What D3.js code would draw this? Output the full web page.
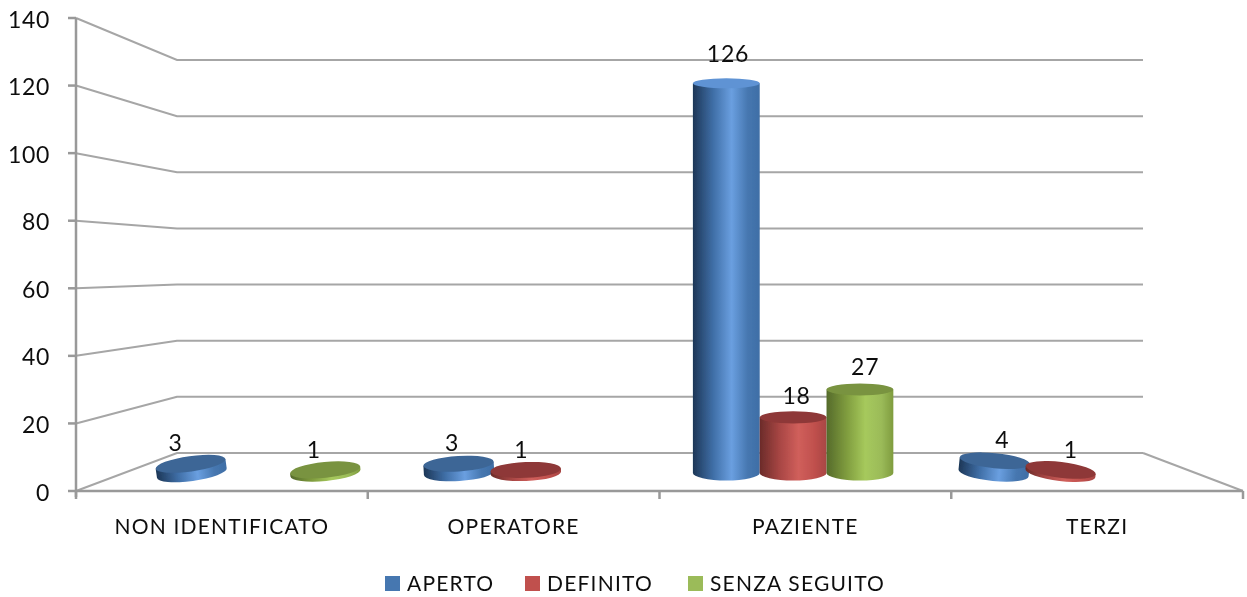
<!DOCTYPE html>
<html><head><meta charset="utf-8">
<script src="https://cdnjs.cloudflare.com/ajax/libs/d3/7.8.5/d3.min.js"></script>
<style>html,body{margin:0;padding:0;background:#fff}svg{display:block}text{font-family:Lato,"Open Sans",sans-serif;fill:#111}</style>
</head><body><div id="c"></div>
<script>
const categories = ["NON IDENTIFICATO","OPERATORE","PAZIENTE","TERZI"];
const seriesNames = ["APERTO","DEFINITO","SENZA SEGUITO"];
const aperto = [3,3,126,4];
const definito = [null,1,18,1];
const senzaSeguito = [1,null,27,null];
const seriesValues = [aperto,definito,senzaSeguito];
const yTicks = [0,20,40,60,80,100,120,140];
const seriesColors = [
  {dark:"#1d3757",mid:"#3f6ea6",light:"#6a9fe0",base:"#4677b0",top:"#3d6696",topTall:"#5f93d4"},
  {dark:"#6b2b29",mid:"#a84644",light:"#d05f5b",base:"#c0504d",top:"#8e3937",topTall:"#8e3937"},
  {dark:"#556a2b",mid:"#7f9c3e",light:"#a6c95c",base:"#9bbb59",top:"#79933f",topTall:"#72893b"}
];

const W=1247,H=597;
const svg=d3.select("#c").append("svg").attr("width",W).attr("height",H);
const defs=svg.append("defs");
defs.append("filter").attr("id","soft").attr("filterUnits","userSpaceOnUse").attr("x",0).attr("y",0).attr("width",W).attr("height",H)
  .append("feGaussianBlur").attr("stdDeviation",0.6);
defs.append("filter").attr("id","softLine").attr("filterUnits","userSpaceOnUse").attr("x",0).attr("y",0).attr("width",W).attr("height",H)
  .append("feGaussianBlur").attr("stdDeviation",0.7);
defs.append("filter").attr("id","softText").attr("filterUnits","userSpaceOnUse").attr("x",0).attr("y",0).attr("width",W).attr("height",H)
  .append("feGaussianBlur").attr("stdDeviation",0.35);
seriesColors.forEach((c,i)=>{
  const g=defs.append("linearGradient").attr("id","g"+i);
  [[0,c.dark],[.3,c.mid],[.58,c.light],[.82,c.base],[1,c.mid]].forEach(s=>g.append("stop").attr("offset",s[0]).attr("stop-color",s[1]));
});

// planes of the pseudo-3D box
const front={x0:76,x1:1243,y0:491,y1:18};
const back={x0:177,x1:1143,y0:453,y1:60};
const yFront=d3.scaleLinear().domain([0,140]).range([front.y0,front.y1]);
const yBack=d3.scaleLinear().domain([0,140]).range([back.y0,back.y1]);
const yBar=d3.scaleLinear().domain([0,140]).range([473,40]);
const xAxis=d3.scaleBand().domain(categories).range([front.x0,front.x1]);
const centre=659.5, depth=0.916;
const xCat=d3.scaleBand().domain(categories).range([centre+(front.x0-centre)*depth,centre+(front.x1-centre)*depth]);
const xSer=d3.scaleBand().domain(seriesNames).range([0,xCat.bandwidth()]).paddingInner(0).paddingOuter(0.5);
const ryTop=d3.scaleLinear().domain([0,60,400]).range([8,6,5]).clamp(true);

// grid
const grid=svg.append("g").attr("filter","url(#softLine)").attr("fill","none").attr("stroke","#a6a6a6").attr("stroke-width",2);
yTicks.forEach(v=>{
  grid.append("path").attr("d",d3.line()([[front.x0,yFront(v)],[back.x0,yBack(v)],[back.x1,yBack(v)]]));
});
grid.append("path").attr("d",d3.line()([[back.x1,yBack(0)],[front.x1,yFront(0)]]));
// axes
const ax=svg.append("g").attr("filter","url(#softLine)").attr("fill","none").attr("stroke","#999").attr("stroke-width",2.5);
ax.append("path").attr("d",d3.line()([[front.x0,yFront(140)],[front.x0,yFront(0)+6],]));
ax.append("path").attr("d",d3.line()([[front.x0,yFront(0)],[front.x1,yFront(0)]]));
yTicks.forEach(v=>ax.append("path").attr("d",d3.line()([[front.x0-8,yFront(v)],[front.x0,yFront(v)]])));
const bx=[front.x0,...categories.map(c=>xAxis(c)+xAxis.bandwidth())];
bx.forEach(x=>ax.append("path").attr("d",d3.line()([[x,yFront(0)],[x,yFront(0)+8]])));

const textG=svg.append("g").attr("filter","url(#softText)");
// y tick labels
textG.append("g").selectAll("text").data(yTicks).join("text")
  .attr("x",50).attr("y",v=>yFront(v)+9.5).attr("text-anchor","end").attr("font-size",23).attr("letter-spacing",0.7).text(d=>d);
// category labels
textG.append("g").selectAll("text").data(categories).join("text")
  .attr("x",c=>xAxis(c)+xAxis.bandwidth()/2).attr("y",534).attr("text-anchor","middle").attr("font-size",21)
  .attr("letter-spacing",1.2).text(d=>d);

// bars
const marks=[];
seriesNames.forEach((s,si)=>categories.forEach((c,ci)=>{
  const v=seriesValues[si][ci];
  if(v!=null)marks.push({s,si,c,v});
}));
const barsG=svg.append("g").attr("filter","url(#soft)");
marks.forEach(m=>{
  const low=m.v<10;
  const rx=xSer.bandwidth()/2+(low?1.8:0);
  const cx=xCat(m.c)+xSer(m.s)+xSer.bandwidth()/2;
  const h=yBar(0)-yBar(m.v);
  const ry=ryTop(h), ryB=low?8:7.5;
  const tilt=low?(cx-centre)*0.017:0;
  const col=seriesColors[m.si];
  const g=barsG.append("g").attr("transform",`translate(${cx},${yBar(0)}) rotate(${tilt})`);
  g.append("path").attr("fill",`url(#g${m.si})`)
    .attr("d",`M${-rx},${-h}L${-rx},0A${rx},${ryB} 0 0 0 ${rx},0L${rx},${-h}Z`);
  g.append("ellipse").attr("cx",0).attr("cy",-h).attr("rx",rx).attr("ry",ry)
    .attr("fill",m.v>100?col.topTall:col.top);
  textG.append("text").attr("x",cx+(cx-centre)*(cx>centre?0.026:0.035)).attr("y",yBar(m.v)-12-h*0.025)
    .attr("text-anchor","middle").attr("font-size",23).attr("letter-spacing",0.8).text(m.v);
});

// legend
const legendX=d3.scaleOrdinal().domain(seriesNames).range([385,525,688]);
const lg=svg.append("g");
seriesNames.forEach((s,i)=>{
  lg.append("rect").attr("x",legendX(s)).attr("y",576).attr("width",15).attr("height",15).attr("fill",seriesColors[i].base);
  textG.append("text").attr("x",legendX(s)+22).attr("y",591).attr("font-size",21).attr("letter-spacing",1.2).text(s);
});
</script></body></html>
